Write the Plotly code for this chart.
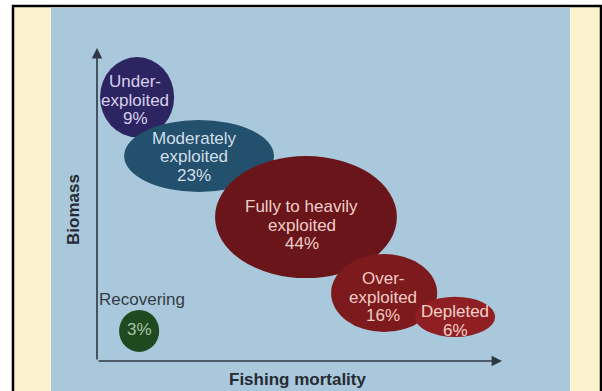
import plotly.graph_objects as go

# ---------------- data ----------------
status = ["Under-exploited", "Moderately exploited", "Fully to heavily exploited",
          "Over-exploited", "Depleted", "Recovering"]
label_lines = [["Under-", "exploited"], ["Moderately", "exploited"],
               ["Fully to heavily", "exploited"], ["Over-", "exploited"],
               ["Depleted"], []]
share_pct = [9, 23, 44, 16, 6, 3]
# relative position on the conceptual axes (0-100)
mortality = [9.9, 25.2, 51.6, 70.9, 88.4, 10.4]
biomass = [84.3, 65.5, 46.0, 21.7, 14.1, 9.6]
spread_mortality = [18.3, 37.0, 44.9, 26.2, 19.8, 9.9]
spread_biomass = [25.6, 23.0, 39.0, 24.9, 12.8, 13.4]

# ---------------- styles ----------------
fill_colors = ["#2C2562", "#22506D", "#6A1519", "#7C1A1D", "#8F1F22", "#1F4A20"]
text_colors = ["#D9CFEC", "#D2DEE8", "#EFCFCB", "#F1CCC6", "#F3D2CC", "#A9C2A2"]
text_dx = [-2, -5, -4, -1, 0, 0]
text_dy = [3, 1, 8, 4, 4, -1]
LINE_GAP = 18.5
FONT = "Liberation Sans, Arial, Helvetica, sans-serif"

W, H = 602, 391
L, R, T, B = 97, 100, 48, 30
PW, PH = W - L - R, H - T - B


def px(x):
    return (x - L) / PW


def py(y):
    return (H - B - y) / PH


fig = go.Figure()

fig.add_trace(go.Scatter(
    x=mortality, y=biomass, mode="markers",
    marker=dict(size=10, opacity=0),
    text=[f"{s}: {p}%" for s, p in zip(status, share_pct)],
    hoverinfo="text", showlegend=False))

shapes = []
# photo frame + blue panel
shapes.append(dict(type="rect", xref="paper", yref="paper", layer="below",
                   x0=px(13), x1=px(601), y0=py(400), y1=py(6),
                   fillcolor="#FCF3CE", line=dict(color="#000000", width=2.5)))
shapes.append(dict(type="rect", xref="paper", yref="paper", layer="below",
                   x0=px(51), x1=px(570), y0=py(398), y1=py(7.5),
                   fillcolor="#A9C8DC", line=dict(width=0)))

for i in range(len(status)):
    shapes.append(dict(type="circle", xref="x", yref="y", layer="above",
                       x0=mortality[i] - spread_mortality[i] / 2,
                       x1=mortality[i] + spread_mortality[i] / 2,
                       y0=biomass[i] - spread_biomass[i] / 2,
                       y1=biomass[i] + spread_biomass[i] / 2,
                       fillcolor=fill_colors[i], line=dict(width=0)))

annotations = []
for i in range(len(status)):
    lines = label_lines[i] + [f"{share_pct[i]}%"]
    n = len(lines)
    for j, ln in enumerate(lines):
        off = (j - (n - 1) / 2) * LINE_GAP + text_dy[i]
        annotations.append(dict(
            x=mortality[i], y=biomass[i], xref="x", yref="y",
            text=ln, showarrow=False, xshift=text_dx[i], yshift=-off,
            xanchor="center", yanchor="middle",
            font=dict(family=FONT, size=17, color=text_colors[i])))

# "Recovering" label above its bubble
annotations.append(dict(
    x=mortality[5], y=biomass[5], xref="x", yref="y", text=status[5],
    showarrow=False, xshift=3, yshift=31, xanchor="center", yanchor="middle",
    font=dict(family=FONT, size=17, color="#353C46")))

# axes with arrows
AX_COL = "#2E3842"
annotations.append(dict(x=0, y=100, ax=0, ay=0, xref="x", yref="y",
                        axref="x", ayref="y", text="", showarrow=True,
                        arrowhead=2, arrowsize=1.3, arrowwidth=1.6,
                        arrowcolor=AX_COL, standoff=0))
annotations.append(dict(x=100, y=0, ax=0, ay=0, xref="x", yref="y",
                        axref="x", ayref="y", text="", showarrow=True,
                        arrowhead=2, arrowsize=1.3, arrowwidth=1.6,
                        arrowcolor=AX_COL, standoff=0))

# axis titles
annotations.append(dict(x=px(73), y=py(210), xref="paper", yref="paper",
                        text="<b>Biomass</b>", textangle=-90, showarrow=False,
                        xanchor="center", yanchor="middle",
                        font=dict(family=FONT, size=17, color="#262B33")))
annotations.append(dict(x=px(297.5), y=py(379.5), xref="paper", yref="paper",
                        text="<b>Fishing mortality</b>", showarrow=False,
                        xanchor="center", yanchor="middle",
                        font=dict(family=FONT, size=17, color="#262B33")))

fig.update_layout(
    width=W, height=H,
    margin=dict(l=L, r=R, t=T, b=B, pad=0),
    paper_bgcolor="#FFFFFF", plot_bgcolor="rgba(0,0,0,0)",
    xaxis=dict(range=[0, 100], visible=False, fixedrange=True),
    yaxis=dict(range=[0, 100], visible=False, fixedrange=True),
    shapes=shapes, annotations=annotations, showlegend=False,
)

fig.write_html("out.html")
